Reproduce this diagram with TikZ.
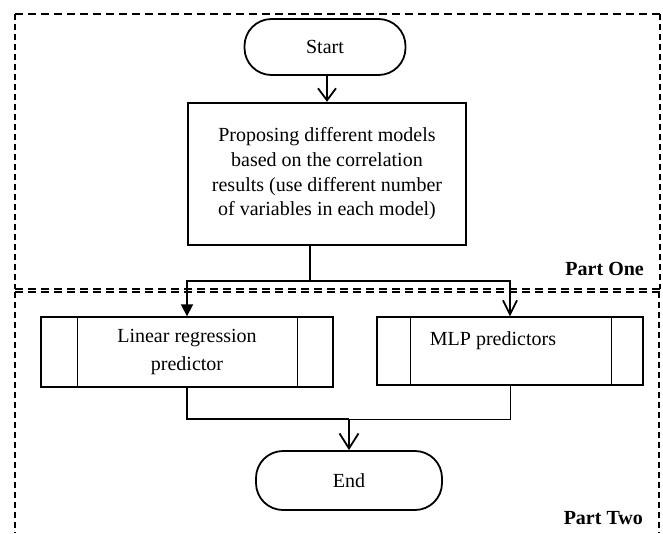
\documentclass[tikz,border=0pt]{standalone}
\usepackage{fontspec}
\setmainfont{Liberation Serif}
\usetikzlibrary{arrows.meta,calc}
\begin{document}
\begin{tikzpicture}[x=1pt,y=-1pt,
  txt/.style={font=\fontsize{20}{24.7}\selectfont, align=center, inner sep=0pt},
  term/.style={draw, line width=1.8pt, rounded corners=27pt, txt},
  procbox/.style={draw, line width=2.4pt, txt},
  predbox/.style={draw, line width=1.4pt, txt},
  conn/.style={line width=1.8pt},
  thinconn/.style={line width=0.9pt},
  hframe/.style={line width=1.4pt, dash pattern=on 8pt off 5pt},
  vframe/.style={line width=1.4pt, dash pattern=on 6pt off 4pt},
  partlbl/.style={font=\fontsize{20}{24}\selectfont\bfseries, inner sep=0pt, anchor=east}
]
\useasboundingbox (0,0) rectangle (663,533);
\fill[white] (0,0) rectangle (663,533);

% frames
\draw[hframe] (15,14) -- (660,14);
\draw[vframe] (15,14) -- (15,289);
\draw[vframe] (660,14) -- (660,289);
\draw[hframe] (15,289) -- (660,289);
\draw[hframe] (15,292) -- (660,292);
\draw[vframe] (15,292) -- (15,533);
\draw[vframe] (659,292) -- (659,533);

% nodes
\node[term, minimum width=161pt, minimum height=56pt] (start) at (325,47) {Start};
\node[procbox, minimum width=278pt, minimum height=142pt] (prop) at (327,174)
  {Proposing different models\\based on the correlation\\results (use different number\\of variables in each model)};
\node[predbox, font=\fontsize{20}{28}\selectfont, minimum width=292pt, minimum height=70pt] (lin) at (187,352)
  {Linear regression\\predictor};
\node[predbox, minimum width=266pt, minimum height=68pt] (mlp) at (510,351) {};
\node[txt, anchor=base] (mlptxt) at (493,345) {MLP predictors};
\node[term, minimum width=186pt, minimum height=59pt] (end) at (349,480.5) {End};

% inner bars of predefined-process boxes
\draw[line width=1.4pt] ([xshift=37pt]lin.north west) -- ([xshift=37pt]lin.south west);
\draw[line width=1.4pt] ([xshift=-36pt]lin.north east) -- ([xshift=-36pt]lin.south east);
\draw[line width=1.4pt] ([xshift=34pt]mlp.north west) -- ([xshift=34pt]mlp.south west);
\draw[line width=1.4pt] ([xshift=-32pt]mlp.north east) -- ([xshift=-32pt]mlp.south east);

% labels
\node[partlbl] (p1) at (644,269) {Part One};
\node[partlbl] (p2) at (643,518) {Part Two};

% connectors
\draw[conn, -{Straight Barb[length=12pt,width=18pt]}] (start.south -| prop.north) -- (prop.north);
\coordinate (split) at (310,281);
\draw[conn] (prop.south -| split) -- (split);
\draw[conn, -{Triangle[length=12pt,width=12pt]}] (split) -| (lin.north);
\draw[conn, -{Straight Barb[length=14pt,width=14pt]}] (split) -| (mlp.north);
\coordinate (merge) at (349,419);
\draw[conn] (lin.south) |- (merge);
\draw[thinconn] (mlp.south) |- (merge);
\draw[conn, -{Straight Barb[length=15pt,width=19pt]}] (merge) -- (end.north);
\end{tikzpicture}
\end{document}
